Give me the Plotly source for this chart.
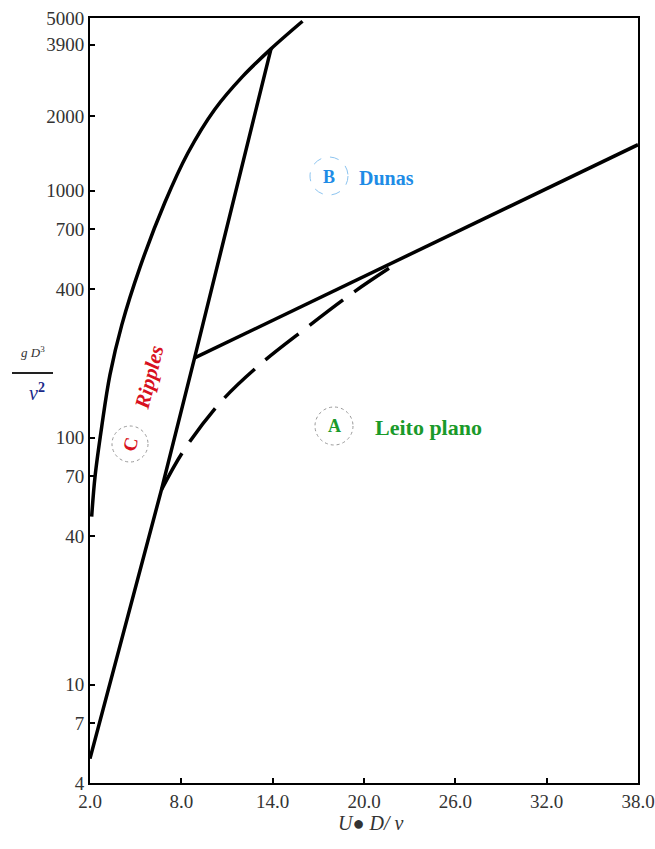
import plotly.graph_objects as go
import math

# Outer boundary of the ripple zone (C / B)
x_outer = [2.11, 2.33, 2.77, 3.31, 4.09, 5.27, 6.91, 8.43, 10.18, 12.03, 13.89, 15.96]
y_outer = [47.9, 69.5, 110.8, 179.5, 286.2, 487, 893, 1420, 2127, 2902, 3750, 4849]

# Inner boundary of the ripple zone (C / A, C / B)
x_ripple = [2.0, 6.69, 8.87, 13.89]
y_ripple = [5.02, 61.4, 210.3, 3750]

# Dunes / flat bed boundary
x_dune = [8.87, 38.0]
y_dune = [210.3, 1535]

# Transition (dashed)
x_trans = [6.69, 8.11, 10.51, 13.13, 16.18, 19.23, 22.29]
y_trans = [61.4, 87.8, 137.8, 197.0, 277.5, 384.6, 515]

x_ticks = [2, 8, 14, 20, 26, 32, 38]
x_ticktext = ["2.0", "8.0", "14.0", "20.0", "26.0", "32.0", "38.0"]
y_ticks = [4, 7, 10, 40, 70, 100, 400, 700, 1000, 2000, 3900, 5000]
y_ticktext = [str(v) for v in y_ticks]

W, H = 655, 849
ML, MR, MT, MB = 90, 17, 18, 66
PW, PH = W - ML - MR, H - MT - MB

def px(xp):
    return (xp - ML) / PW

def py(yp):
    return (H - MB - yp) / PH

fig = go.Figure()
lw = 3.5
fig.add_trace(go.Scatter(x=x_outer, y=y_outer, mode="lines",
                         line=dict(color="black", width=lw, shape="spline", smoothing=1.0),
                         showlegend=False, hoverinfo="skip"))
fig.add_trace(go.Scatter(x=x_ripple, y=y_ripple, mode="lines",
                         line=dict(color="black", width=lw),
                         showlegend=False, hoverinfo="skip"))
fig.add_trace(go.Scatter(x=x_dune, y=y_dune, mode="lines",
                         line=dict(color="black", width=lw),
                         showlegend=False, hoverinfo="skip"))
fig.add_trace(go.Scatter(x=x_trans, y=y_trans, mode="lines",
                         line=dict(color="black", width=lw, shape="spline",
                                   dash="42px,14px"),
                         showlegend=False, hoverinfo="skip"))

serif = "Liberation Serif, Times New Roman, serif"

fig.update_xaxes(range=[2, 38], tickvals=x_ticks, ticktext=x_ticktext,
                 showline=True, linecolor="black", linewidth=2, mirror=True,
                 ticks="inside", ticklen=5, tickwidth=2, tickcolor="black",
                 showgrid=False, zeroline=False, ticklabeloverflow="allow",
                 automargin=False,
                 tickfont=dict(family=serif, size=19, color="#333"))
fig.update_yaxes(type="log", range=[math.log10(4), math.log10(5000)],
                 tickvals=y_ticks, ticktext=y_ticktext,
                 showline=True, linecolor="black", linewidth=2, mirror=True,
                 ticks="inside", ticklen=5, tickwidth=2, tickcolor="black",
                 showgrid=False, zeroline=False, ticklabeloverflow="allow",
                 automargin=False,
                 tickfont=dict(family=serif, size=19, color="#333"))

annotations = []
shapes = []

def circle(cx, cy, r, color, dash):
    shapes.append(dict(type="circle", xref="paper", yref="paper",
                       x0=px(cx - r), x1=px(cx + r), y0=py(cy + r), y1=py(cy - r),
                       line=dict(color=color, width=1, dash=dash)))

def label(xp, yp, text, size, color, angle=0, xanchor="center"):
    annotations.append(dict(x=px(xp), y=py(yp), xref="paper", yref="paper",
                            text=text, showarrow=False, textangle=angle,
                            xanchor=xanchor, yanchor="middle",
                            font=dict(family=serif, size=size, color=color)))

# B Dunas
circle(329, 176, 19, "#8cc4f0", "dash")
label(329, 177, "<b>B</b>", 18, "#1e8ce6")
label(357, 178, "<b>Dunas</b>", 20, "#1e8ce6", xanchor="left")
# A Leito plano
circle(334, 426, 19, "#999999", "dot")
label(334, 426, "<b>A</b>", 18, "#1a9a2a")
label(373, 427, "<b>Leito plano</b>", 22, "#1a9a2a", xanchor="left")
# C Ripples
circle(130, 444, 18, "#999999", "dot")
label(130, 444, "<b>C</b>", 19, "#d81020", angle=-76)
label(149, 378, "<b><i>Ripples</i></b>", 21, "#d81020", angle=-76)

# Axis titles
annotations.append(dict(x=px(371), y=py(836), xref="paper", yref="paper",
                        text="<i>U</i>\u25cf <i>D/ v</i>", showarrow=False,
                        font=dict(family=serif, size=20, color="#333")))
label(33, 352, "<i>g D</i><sup>3</sup>", 13, "#333")
shapes.append(dict(type="line", xref="paper", yref="paper",
                   x0=px(12), x1=px(53), y0=py(373), y1=py(373),
                   line=dict(color="#222", width=2)))
label(37, 392, "<i>\u03bd</i><sup><b>2</b></sup>", 20, "#1a2a8a")

fig.update_layout(width=W, height=H,
                  margin=dict(l=ML, r=MR, t=MT, b=MB, autoexpand=False),
                  paper_bgcolor="white", plot_bgcolor="white",
                  annotations=annotations, shapes=shapes)

fig.write_html("out.html")
